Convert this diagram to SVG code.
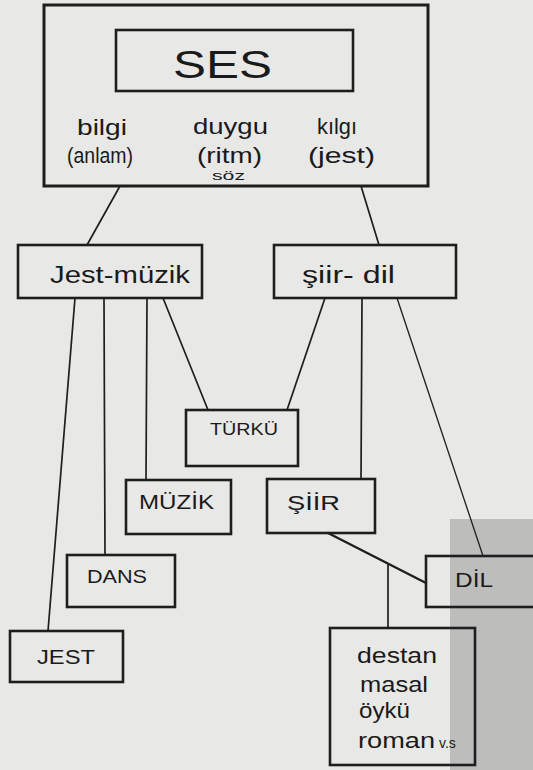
<svg xmlns="http://www.w3.org/2000/svg" width="533" height="770" viewBox="0 0 533 770">
<style>
.bg{fill:#e8e8e6}
.shade{fill:#bdbdbc}
.box{fill:none;stroke:#1e1e1e;stroke-width:2.6}
.big{fill:none;stroke:#1e1e1e;stroke-width:3}
.ln{fill:none;stroke:#1e1e1e;stroke-width:1.7;stroke-linecap:round}
.thin{stroke-width:1.3}
.thick{stroke-width:2.4}
text{font-family:"Liberation Sans","DejaVu Sans",sans-serif;fill:#1a1a1a}
</style>
<rect class="bg" x="0" y="0" width="533" height="770"/>
<rect class="shade" x="450" y="519" width="83" height="251"/>

<g id="connectors">
  <line class="ln" x1="120" y1="186" x2="87" y2="245"/>
  <line class="ln" x1="361" y1="186" x2="379" y2="245"/>
  <line class="ln" x1="75" y1="298" x2="48" y2="631"/>
  <line class="ln" x1="104" y1="298" x2="105" y2="555"/>
  <line class="ln" x1="147" y1="298" x2="146" y2="480"/>
  <line class="ln" x1="163" y1="298" x2="208" y2="410"/>
  <line class="ln" x1="325" y1="298" x2="287" y2="410"/>
  <line class="ln" x1="362" y1="298" x2="361" y2="479"/>
  <line class="ln thin" x1="397" y1="298" x2="483" y2="556"/>
  <line class="ln thick" x1="328" y1="533" x2="426" y2="583"/>
  <line class="ln" x1="388" y1="564" x2="388" y2="628"/>
</g>

<g id="ses-group">
  <rect class="big" x="44" y="5" width="384" height="181"/>
  <g id="ses">
    <rect class="box" x="116" y="30" width="237" height="61"/>
    <text x="173" y="78" font-size="38" textLength="99" lengthAdjust="spacingAndGlyphs">SES</text>
  </g>
  <text x="77" y="135" font-size="22" textLength="50" lengthAdjust="spacingAndGlyphs">bilgi</text>
  <text x="67" y="163" font-size="22" textLength="66" lengthAdjust="spacingAndGlyphs">(anlam)</text>
  <text x="193" y="134" font-size="22" textLength="75" lengthAdjust="spacingAndGlyphs">duygu</text>
  <text x="197" y="163" font-size="22" textLength="65" lengthAdjust="spacingAndGlyphs">(ritm)</text>
  <text x="212" y="180" font-size="12" textLength="33" lengthAdjust="spacingAndGlyphs">söz</text>
  <text x="317" y="134" font-size="22" textLength="40" lengthAdjust="spacingAndGlyphs">kılgı</text>
  <text x="308" y="163" font-size="22" textLength="67" lengthAdjust="spacingAndGlyphs">(jest)</text>
</g>

<g id="jest-muzik">
  <rect class="box" x="18" y="245" width="184" height="53"/>
  <text x="50" y="283" font-size="23" textLength="140" lengthAdjust="spacingAndGlyphs">Jest-müzik</text>
</g>

<g id="siir-dil">
  <rect class="box" x="274" y="245" width="182" height="53"/>
  <text x="302" y="283" font-size="23" textLength="93" lengthAdjust="spacingAndGlyphs">şiir- dil</text>
</g>

<g id="turku">
  <rect class="box" x="186" y="410" width="112" height="56"/>
  <text x="210" y="435" font-size="16" textLength="68" lengthAdjust="spacingAndGlyphs">TÜRKÜ</text>
</g>

<g id="muzik">
  <rect class="box" x="126" y="480" width="105" height="54"/>
  <text x="139" y="509" font-size="20" textLength="75" lengthAdjust="spacingAndGlyphs">MÜZİK</text>
</g>

<g id="siir">
  <rect class="box" x="267" y="479" width="108" height="54"/>
  <text x="287" y="510" font-size="20" textLength="53" lengthAdjust="spacingAndGlyphs">ŞİİR</text>
</g>

<g id="dans">
  <rect class="box" x="67" y="555" width="108" height="52"/>
  <text x="87" y="583" font-size="19" textLength="60" lengthAdjust="spacingAndGlyphs">DANS</text>
</g>

<g id="jest">
  <rect class="box" x="10" y="631" width="113" height="51"/>
  <text x="37" y="664" font-size="21" textLength="58" lengthAdjust="spacingAndGlyphs">JEST</text>
</g>

<g id="dil">
  <rect class="box" x="426" y="556" width="115" height="51"/>
  <text x="455" y="587" font-size="20" textLength="38" lengthAdjust="spacingAndGlyphs">DİL</text>
</g>

<g id="edebiyat">
  <rect class="box" x="330" y="628" width="145" height="137"/>
  <text x="357" y="663" font-size="22" textLength="80" lengthAdjust="spacingAndGlyphs">destan</text>
  <text x="360" y="692" font-size="22" textLength="68" lengthAdjust="spacingAndGlyphs">masal</text>
  <text x="359" y="718" font-size="22" textLength="51" lengthAdjust="spacingAndGlyphs">öykü</text>
  <text y="748" font-size="22"><tspan x="358" textLength="77" lengthAdjust="spacingAndGlyphs">roman</tspan><tspan x="439" font-size="14">v.s</tspan></text>
</g>
</svg>
